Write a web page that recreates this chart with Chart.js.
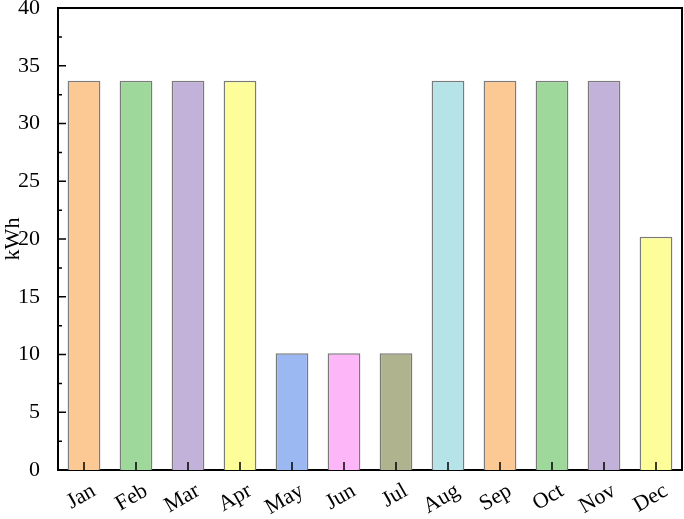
<!DOCTYPE html>
<html>
<head>
<meta charset="utf-8">
<script src="https://cdn.jsdelivr.net/npm/chart.js@4.4.1/dist/chart.umd.min.js"></script>
<style>
  html, body { margin: 0; padding: 0; background: #fff; }
  #wrap { width: 684px; height: 519px; }
</style>
</head>
<body>
<div id="wrap"><canvas id="energyChart"></canvas></div>
<script>
const months = ["Jan", "Feb", "Mar", "Apr", "May", "Jun", "Jul", "Aug", "Sep", "Oct", "Nov", "Dec"];
const energy = [33.7, 33.7, 33.7, 33.7, 10.1, 10.1, 10.1, 33.7, 33.7, 33.7, 33.7, 20.2];
const barColors = ["#fcc893", "#9ed89a", "#c2b1d8", "#fdfd9a", "#9cb8f2", "#fdb6f8",
  "#b0b48e", "#b5e3e8", "#fcc893", "#9ed89a", "#c2b1d8", "#fdfd9a"];
const yTicks = [0, 5, 10, 15, 20, 25, 30, 35, 40];

const serif = "'Liberation Serif', 'Times New Roman', serif";

// frame on top/right plus inward ticks, like an Origin plot
const framePlugin = {
  id: "frame",
  afterDraw(chart) {
    const { ctx, chartArea: area, scales } = chart;
    ctx.save();
    ctx.strokeStyle = "#000";
    ctx.lineWidth = 2;
    ctx.beginPath();
    ctx.moveTo(area.left, area.top);
    ctx.lineTo(area.right, area.top);
    ctx.lineTo(area.right, area.bottom);
    ctx.stroke();

    ctx.lineWidth = 1.5;
    ctx.beginPath();
    yTicks.forEach((value) => {
      const y = scales.y.getPixelForValue(value);
      ctx.moveTo(area.left, y);
      ctx.lineTo(area.left + 8, y);
      if (value < 40) {
        const yMinor = scales.y.getPixelForValue(value + 2.5);
        ctx.moveTo(area.left, yMinor);
        ctx.lineTo(area.left + 4, yMinor);
      }
    });
    months.forEach((month, index) => {
      const x = scales.x.getPixelForValue(index);
      ctx.moveTo(x, area.bottom);
      ctx.lineTo(x, area.bottom - 8);
    });
    ctx.stroke();
    ctx.restore();
  },
};

new Chart(document.getElementById("energyChart"), {
  type: "bar",
  data: {
    labels: months,
    datasets: [{
      data: energy,
      backgroundColor: barColors,
      borderColor: "#7a7a7a",
      borderWidth: 1.5,
      categoryPercentage: 1,
      barPercentage: 0.63,
    }],
  },
  options: {
    responsive: true,
    maintainAspectRatio: false,
    animation: false,
    layout: { padding: { top: 8, right: 2, left: 0, bottom: 0 } },
    plugins: { legend: { display: false }, tooltip: { enabled: false } },
    scales: {
      x: {
        grid: { display: false },
        border: { display: true, color: "#000", width: 2 },
        ticks: {
          color: "#000",
          font: { family: serif, size: 22 },
          minRotation: 30,
          maxRotation: 30,
          labelOffset: 10,
          padding: 0,
        },
        afterFit(scale) {
          scale.height = 49;
          scale.paddingLeft = 0;
          scale.paddingRight = 0;
        },
      },
      y: {
        min: 0,
        max: 40,
        grid: { display: false },
        border: { display: true, color: "#000", width: 2 },
        afterBuildTicks(scale) { scale.ticks = yTicks.map((value) => ({ value })); },
        ticks: {
          color: "#000",
          font: { family: serif, size: 22 },
          padding: 10,
        },
        title: {
          display: true,
          text: "kWh",
          color: "#000",
          font: { family: serif, size: 22 },
          padding: 0,
        },
        afterFit(scale) {
          scale.width = 58;
          scale.paddingTop = 0;
          scale.paddingBottom = 0;
        },
      },
    },
  },
  plugins: [framePlugin],
});
</script>
</body>
</html>
